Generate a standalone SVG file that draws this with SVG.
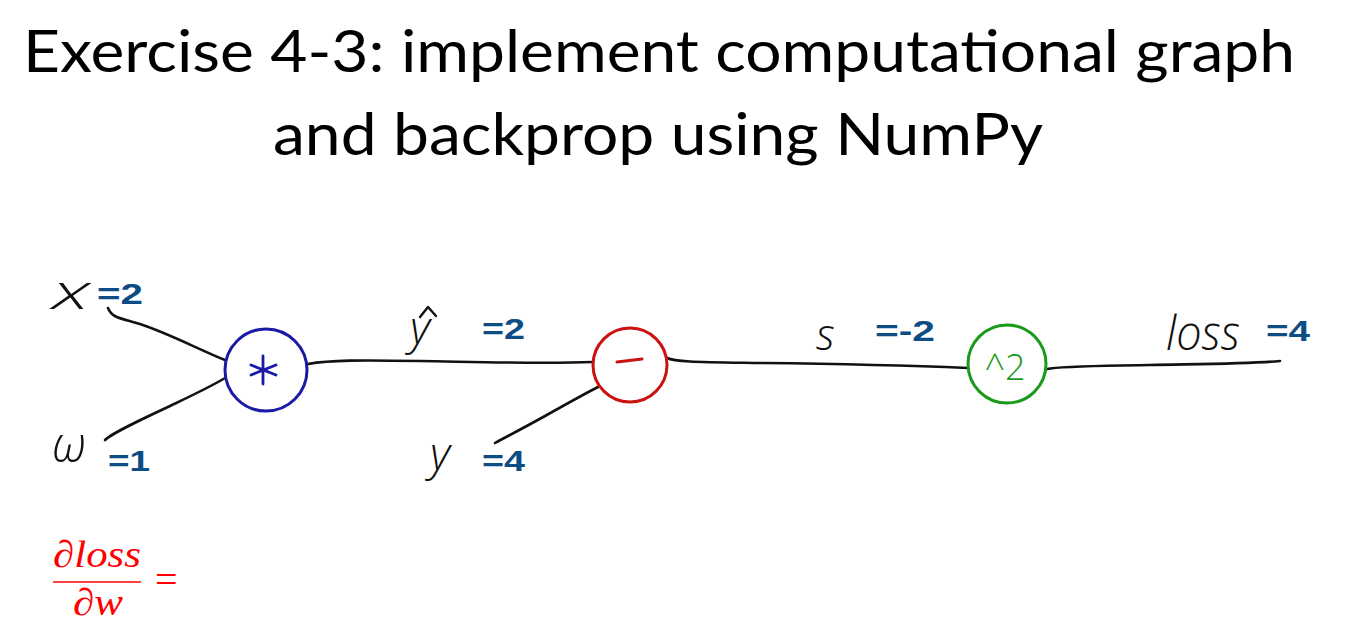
<svg xmlns="http://www.w3.org/2000/svg" width="1368" height="641" viewBox="0 0 1368 641">
<style>
.title{font-family:Lato,"Open Sans",sans-serif;font-size:58px;fill:#000}
.hand{font-family:"Open Sans",sans-serif;font-weight:300;font-style:italic;fill:#111}
.val{font-family:"Liberation Sans",Arial,sans-serif;font-weight:bold;font-size:29px;fill:#0E4D84}
.edge{fill:none;stroke:#111;stroke-width:2.6;stroke-linecap:round}
.math{font-family:"Liberation Serif","DejaVu Serif",serif;font-style:italic;fill:#ff0000}
</style>
<rect width="1368" height="641" fill="#fff"/>
<g id="title">
<text class="title" x="659" y="72" text-anchor="middle" textLength="1272" lengthAdjust="spacingAndGlyphs">Exercise 4-3: implement computational graph</text>
<text class="title" x="658" y="155" text-anchor="middle" textLength="770" lengthAdjust="spacingAndGlyphs">and backprop using NumPy</text>
</g>
<g id="connectors">
<path class="edge" d="M108,308 C112,318 120,318 140,324 C170,334 200,350 225,360"/>
<path class="edge" d="M105,440 C112,433 140,420 170,406 C195,394 212,386 225,378"/>
<path class="edge" d="M308,364 C330,360 360,360 420,361 C480,362 540,364 593,362"/>
<path class="edge" d="M495,443 C500,440 520,430 545,416 C570,402 588,392 598,387"/>
<path class="edge" d="M667,358 C675,362 700,362 760,363 C850,364 920,366 968,368"/>
<path class="edge" d="M1047,369 C1060,366 1100,366 1150,365 C1200,364 1250,364 1280,361"/>
</g>
<g id="node-x">
<text class="hand" x="52" y="309" font-size="48" textLength="38" lengthAdjust="spacingAndGlyphs">x</text>
<text class="val" x="97" y="304" textLength="46" lengthAdjust="spacingAndGlyphs">=2</text>
</g>
<g id="node-w">
<text class="hand" x="52" y="462" font-size="50" textLength="34" lengthAdjust="spacingAndGlyphs">ω</text>
<text class="val" x="108" y="471" textLength="42" lengthAdjust="spacingAndGlyphs">=1</text>
</g>
<g id="node-mul">
<circle cx="266" cy="370" r="41" fill="none" stroke="#1a1aa6" stroke-width="3"/>
<path d="M263,356 L263,384 M251,365 L276,375 M251,375 L276,365" fill="none" stroke="#1a1aa6" stroke-width="2.8" stroke-linecap="round"/>
</g>
<g id="node-yhat">
<text class="hand" x="410" y="344" font-size="46">y</text>
<path d="M420,317 L428,307 L436,316" fill="none" stroke="#111" stroke-width="2.4" stroke-linecap="round" stroke-linejoin="round"/>
<text class="val" x="482" y="339" textLength="43" lengthAdjust="spacingAndGlyphs">=2</text>
</g>
<g id="node-sub">
<circle cx="630" cy="365" r="37" fill="none" stroke="#cc1111" stroke-width="3"/>
<path d="M617,362 L642,359" stroke="#cc1111" stroke-width="3" stroke-linecap="round"/>
</g>
<g id="node-y">
<text class="hand" x="430" y="470" font-size="46">y</text>
<text class="val" x="482" y="471" textLength="43" lengthAdjust="spacingAndGlyphs">=4</text>
</g>
<g id="node-s">
<text class="hand" x="816" y="350" font-size="44">s</text>
<text class="val" x="875" y="341" textLength="60" lengthAdjust="spacingAndGlyphs">=-2</text>
</g>
<g id="node-sq">
<circle cx="1007" cy="364" r="39" fill="none" stroke="#1a9a1a" stroke-width="3"/>
<text x="1005" y="380" text-anchor="middle" font-family="'Open Sans',sans-serif" font-weight="300" font-size="36" fill="#1a9a1a">^2</text>
</g>
<g id="node-loss">
<text class="hand" x="1166" y="350" font-size="48" textLength="74" lengthAdjust="spacingAndGlyphs">loss</text>
<text class="val" x="1266" y="341" textLength="44" lengthAdjust="spacingAndGlyphs">=4</text>
</g>
<g id="formula">
<text class="math" x="53" y="567" font-size="38" textLength="88" lengthAdjust="spacingAndGlyphs">∂loss</text>
<line x1="53" y1="582" x2="141" y2="582" stroke="#ff0000" stroke-width="1.6"/>
<text class="math" x="73" y="615" font-size="38" textLength="50" lengthAdjust="spacingAndGlyphs">∂w</text>
<text x="155" y="593" font-family="'Liberation Serif',serif" font-size="40" fill="#ff0000">=</text>
</g>
</svg>
